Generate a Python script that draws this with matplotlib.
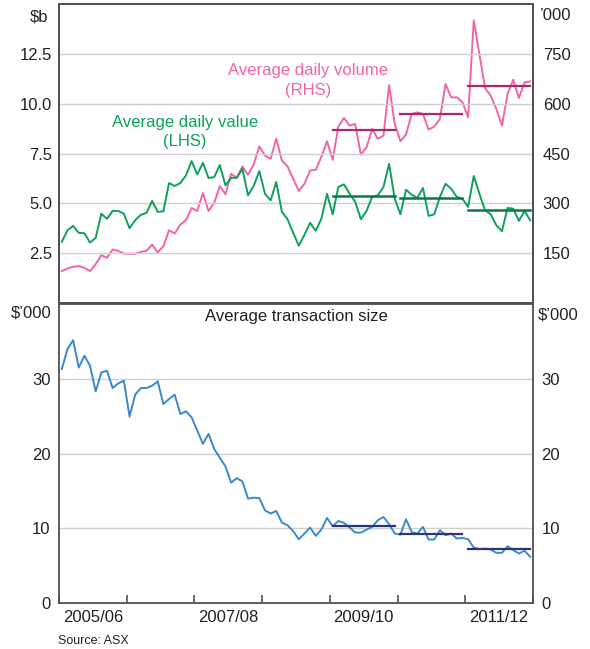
import matplotlib
matplotlib.use("Agg")
import matplotlib.pyplot as plt

plt.rcParams['font.family'] = ['Liberation Sans', 'DejaVu Sans']

# monthly data, Jul 2005 - Jun 2012
value_b = [3.07, 3.65, 3.87, 3.52, 3.50, 3.03, 3.27, 4.48, 4.22, 4.62, 4.62, 4.48, 3.75, 4.15, 4.42,
           4.52, 5.12, 4.57, 4.60, 6.02, 5.87, 6.02, 6.40, 7.12, 6.45, 7.03, 6.27, 6.32, 6.92, 5.90,
           6.28, 6.28, 6.73, 5.40, 5.87, 6.62, 5.48, 5.15, 6.07, 4.57, 4.20, 3.52, 2.87,
           3.43, 4.02, 3.62, 4.23, 5.48, 4.45, 5.82, 5.95, 5.48, 5.07, 4.20, 4.62, 5.32, 5.40, 5.82,
           6.98, 5.23, 4.45, 5.68, 5.43, 5.28, 5.77, 4.37, 4.45, 5.32, 5.98, 5.73, 5.32, 5.23, 4.82,
           6.37, 5.48, 4.65, 4.45, 3.90, 3.60, 4.77, 4.73, 4.12, 4.62, 4.15]
volume_k = [96, 104, 109, 111, 106, 96, 117, 144, 136, 161, 157, 149, 148, 148, 154, 157, 176, 152,
            171, 219, 209, 236, 249, 286, 277, 331, 277, 301, 352, 327, 389, 377, 411, 386, 417, 471,
            444, 434, 495, 429, 411, 374, 337,
            359, 399, 401, 440, 487, 431, 531, 557, 534, 539, 446, 469, 524, 494, 504, 656, 539, 487,
            507, 569, 574, 569, 522, 531, 554, 659, 619, 619, 604, 559, 851, 749, 647, 624, 584, 534,
            629, 672, 617, 664, 667]
size_k = [31.3, 33.96, 35.16, 31.5, 33.07, 31.73, 28.31, 30.84, 31.07, 28.76, 29.38, 29.73, 24.93,
          27.87, 28.76, 28.76, 29.07, 29.64, 26.62, 27.29, 27.87, 25.29, 25.64, 24.84, 23.07, 21.29,
          22.62, 20.62, 19.42, 18.27, 16.09, 16.71, 16.27, 13.96, 14.09, 14.04, 12.4, 11.96, 12.31,
          10.76, 10.4, 9.6, 8.53,
          9.29, 10.09, 8.98, 9.82, 11.38, 10.27, 10.98, 10.71, 10.09, 9.42, 9.42, 9.82, 10.18, 11.07,
          11.51, 10.53, 9.29, 9.16, 11.2, 9.51, 9.29, 10.18, 8.49, 8.49, 9.73, 9.07, 9.29, 8.62, 8.71,
          8.53, 7.42, 7.2, 7.29, 7.16, 6.71, 6.71, 7.6, 7.07, 6.62, 6.98, 6.18]

# financial-year averages (2009/10, 2010/11, 2011/12)
fy_start = [48, 60, 72]
avg_value = [5.35, 5.27, 4.67]
avg_volume = [521, 568, 652]
avg_size = [10.27, 9.29, 7.16]

year_labels = ['2005/06', '2007/08', '2009/10', '2011/12']
label_pos = [6, 30, 54, 78]

months = [i + 0.5 for i in range(len(value_b))]

c_green, c_green_avg = '#0ea15a', '#0b7a45'
c_pink, c_pink_avg = '#f065a8', '#a82a6c'
c_blue, c_blue_avg = '#3a89cc', '#2c3577'
grid_c = '#cfcfcf'
spine_c = '#505050'
txt_c = '#222222'

W, H = 590, 649
fig = plt.figure(figsize=(W / 100, H / 100), dpi=100)
ax1 = fig.add_axes([59 / W, 1 - 303 / H, 474 / W, 299 / H])
ax3 = fig.add_axes([59 / W, 1 - 603 / H, 474 / W, 299 / H])
ax2 = ax1.twinx()

# top panel
ax1.set_xlim(0, 84)
ax1.set_ylim(0, 15)
ax2.set_ylim(0, 900)
ax1.set_yticks([2.5, 5.0, 7.5, 10.0, 12.5])
ax1.set_yticklabels(['2.5', '5.0', '7.5', '10.0', '12.5'])
ax2.set_yticks([150, 300, 450, 600, 750])
ax1.yaxis.grid(True, color=grid_c, lw=1.0)
ax1.set_axisbelow(True)
ax1.set_xticks([])

ax2.plot(months, volume_k, color=c_pink, lw=1.4, zorder=3)
for s, v in zip(fy_start, avg_volume):
    ax2.plot([s + 0.5, s + 11.5], [v, v], color=c_pink_avg, lw=1.6, zorder=4)
ax1.plot(months, value_b, color=c_green, lw=1.4, zorder=3)
for s, v in zip(fy_start, avg_value):
    ax1.plot([s + 0.5, s + 11.5], [v, v], color=c_green_avg, lw=1.8, zorder=4)
ax1.set_zorder(ax2.get_zorder() + 1)
ax1.patch.set_visible(False)

ax1.text(44.1, 11.65, 'Average daily volume', color=c_pink, fontsize=12, ha='center', va='center')
ax1.text(44.1, 10.65, '(RHS)', color=c_pink, fontsize=12, ha='center', va='center')
ax1.text(22.3, 9.05, 'Average daily value', color=c_green, fontsize=12, ha='center', va='center')
ax1.text(22.3, 8.1, '(LHS)', color=c_green, fontsize=12, ha='center', va='center')

# bottom panel
ax3.set_xlim(0, 84)
ax3.set_ylim(0, 40)
ax3.set_yticks([0, 10, 20, 30])
ax3.yaxis.grid(True, color=grid_c, lw=1.0)
ax3.set_axisbelow(True)
ax3.plot(months, size_k, color=c_blue, lw=1.4, zorder=3)
for s, v in zip(fy_start, avg_size):
    ax3.plot([s + 0.5, s + 11.5], [v, v], color=c_blue_avg, lw=1.6, zorder=4)
ax3.text(42, 38.3, 'Average transaction size', fontsize=12, ha='center', va='center', color=txt_c)

ax3.set_xticks(range(0, 85, 12))
ax3.set_xticklabels([])
ax3.set_xticks(label_pos, minor=True)
ax3.set_xticklabels(year_labels, minor=True)
ax3.tick_params(axis='x', which='major', direction='in', length=6, width=1.2, color=spine_c)
ax3.tick_params(axis='x', which='minor', length=0, pad=5, labelsize=12, labelcolor=txt_c)

for ax in (ax1, ax2, ax3):
    for sp in ax.spines.values():
        sp.set_color(spine_c)
        sp.set_linewidth(1.3)
    ax.tick_params(axis='y', length=0, labelsize=12, labelcolor=txt_c)
ax1.tick_params(axis='y', pad=5)
ax2.tick_params(axis='y', pad=7)
ax3.tick_params(axis='y', pad=6, left=False, right=False, labelleft=True, labelright=True)

# unit labels
fig.text(39 / W, 1 - 17 / H, '$b', fontsize=12, ha='center', va='center', color=txt_c)
fig.text(540 / W, 1 - 15 / H, '\u2019000', fontsize=12, ha='left', va='center', color=txt_c)
fig.text(31 / W, 1 - 313 / H, '$\u2019000', fontsize=12, ha='center', va='center', color=txt_c)
fig.text(538 / W, 1 - 315 / H, '$\u2019000', fontsize=12, ha='left', va='center', color=txt_c)
fig.text(58 / W, 1 - 641 / H, 'Source: ASX', fontsize=9, ha='left', va='center', color=txt_c)

fig.savefig('out.png', dpi=100)
